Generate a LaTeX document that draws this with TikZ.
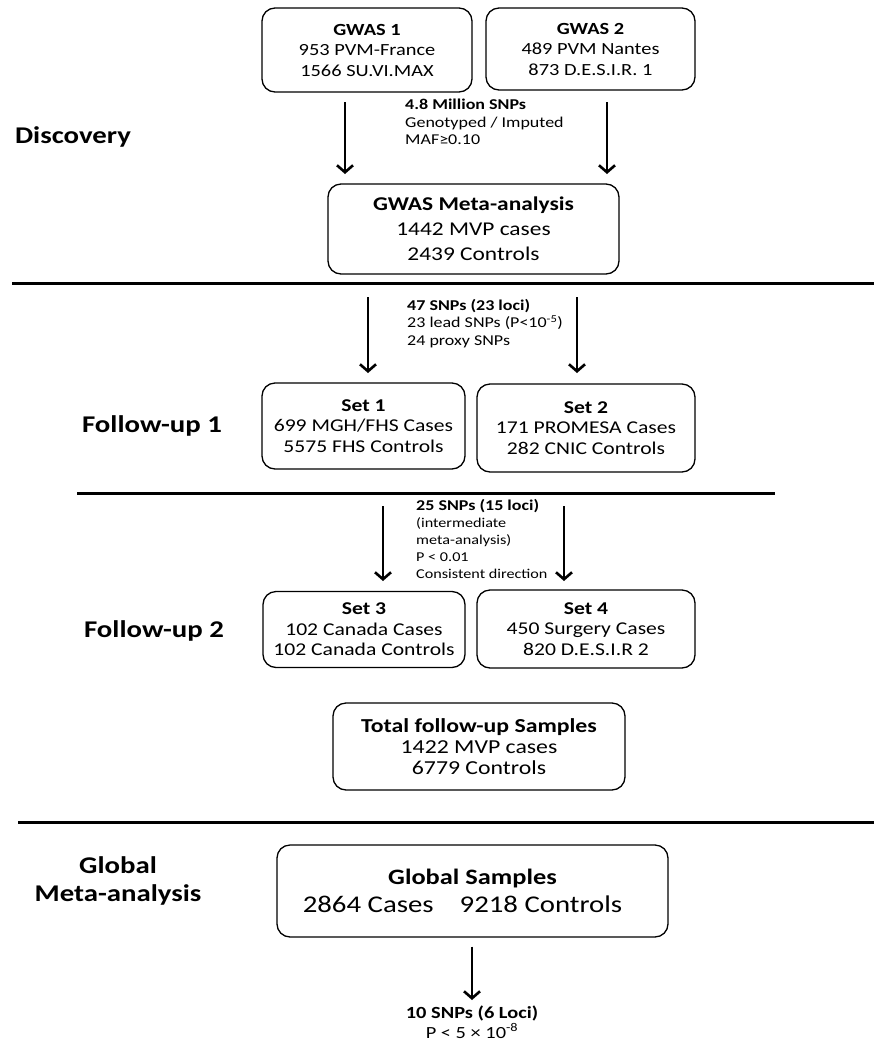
\documentclass[tikz,border=0pt]{standalone}
\usepackage{fontspec}
\setmainfont{Carlito}[FakeStretch=1.2]
\usetikzlibrary{arrows.meta}
\tikzset{
  box/.style={draw, line width=1.3pt, rounded corners=13pt, align=center, inner sep=0pt},
  bfont/.style={font=\fontsize{17}{20.5}\selectfont},
  sfont/.style={font=\fontsize{18}{20.5}\selectfont},
  tfont/.style={font=\fontsize{19.8}{21}\selectfont},
  mfont/.style={font=\fontsize{19.5}{25}\selectfont},
  gfont/.style={font=\fontsize{24}{28}\selectfont},
  ann/.style={anchor=north west, align=left, inner sep=0pt, font=\fontsize{15}{17.5}\selectfont},
  stage/.style={align=center, inner sep=0pt, font=\fontsize{24}{28}\selectfont\bfseries},
  arr/.style={line width=2.6pt, -{Straight Barb[length=7pt,width=16pt]}},
  sep/.style={line width=3pt}
}
\begin{document}
\begin{tikzpicture}[x=1pt,y=-1pt]
\useasboundingbox (0,0) rectangle (874,1045);
% boxes
\node[box,bfont,minimum width=210pt,minimum height=84pt] (gwas1) at (367,50) {\textbf{GWAS 1}\\953 PVM-France\\1566 SU.VI.MAX};
\node[box,bfont,minimum width=209pt,minimum height=82pt] (gwas2) at (590.5,49) {\textbf{GWAS 2}\\489 PVM Nantes\\873 D.E.S.I.R. 1};
\node[box,mfont,minimum width=291pt,minimum height=90pt] (meta) at (473.5,229) {\textbf{GWAS Meta-analysis}\\1442 MVP cases\\2439 Controls};
\node[box,sfont,minimum width=203pt,minimum height=86pt] (set1) at (363.5,426) {\textbf{Set 1}\\699 MGH/FHS Cases\\5575 FHS Controls};
\node[box,sfont,minimum width=218pt,minimum height=88pt] (set2) at (586,428) {\textbf{Set 2}\\171 PROMESA Cases\\282 CNIC Controls};
\node[box,sfont,minimum width=202pt,minimum height=76pt] (set3) at (364,629.5) {\textbf{Set 3}\\102 Canada Cases\\102 Canada Controls};
\node[box,sfont,minimum width=218pt,minimum height=78pt] (set4) at (586,629) {\textbf{Set 4}\\450 Surgery Cases\\820 D.E.S.I.R 2};
\node[box,tfont,minimum width=292pt,minimum height=87pt] (total) at (479,746.5) {\textbf{Total follow-up Samples}\\1422 MVP cases\\6779 Controls};
\node[box,gfont,minimum width=391pt,minimum height=92pt] (global) at (472.5,891) {{\fontsize{22}{28}\selectfont\textbf{Global Samples}}\\2864 Cases\hspace{26pt}9218 Controls\kern20pt};
% annotations
\node[ann] (ann1) at (405,99) {\textbf{4.8 Million SNPs}\\Genotyped / Imputed\\MAF≥0.10};
\node[ann] (ann2) at (407,299) {\textbf{47 SNPs (23 loci)}\\23 lead SNPs (P<10\textsuperscript{-5})\\24 proxy SNPs};
\node[ann,font=\fontsize{13.5}{17}\selectfont] (ann3) at (416,499) {{\fontsize{15}{17}\selectfont\textbf{25 SNPs (15 loci)}}\\(intermediate\\meta-analysis)\\P < 0.01\\Consistent direction};
\node[align=center, inner sep=0pt, font=\fontsize{17}{19.5}\selectfont] (final) at (472,1022) {\textbf{10 SNPs (6 Loci)}\\P < 5 × 10\textsuperscript{-8}};
% stage labels
\node[stage] (disc) at (73,137) {Discovery};
\node[stage] (fu1) at (152,426) {Follow-up 1};
\node[stage] (fu2) at (154,631) {Follow-up 2};
\node[stage] (glob) at (118,881) {Global\\Meta-analysis};
% separators
\coordinate (l1a) at (12,283); \coordinate (l1b) at (874,283);
\coordinate (l2a) at (77,493); \coordinate (l2b) at (775,493);
\coordinate (l3a) at (18,822); \coordinate (l3b) at (874,822);
\draw[sep] (l1a) -- (l1b);
\draw[sep] (l2a) -- (l2b);
\draw[sep] (l3a) -- (l3b);
% arrows
\coordinate (a1s) at (345,102); \coordinate (a1e) at (345,174);
\coordinate (a2s) at (607,102); \coordinate (a2e) at (607,174);
\coordinate (a3s) at (368,297); \coordinate (a3e) at (368,373);
\coordinate (a4s) at (577,297); \coordinate (a4e) at (577,373);
\coordinate (a5s) at (383,506); \coordinate (a5e) at (383,581);
\coordinate (a6s) at (564,506); \coordinate (a6e) at (564,581);
\coordinate (a7e) at (472,1000);
\draw[arr] (a1s) -- (a1e);
\draw[arr] (a2s) -- (a2e);
\draw[arr] (a3s) -- (a3e);
\draw[arr] (a4s) -- (a4e);
\draw[arr] (a5s) -- (a5e);
\draw[arr] (a6s) -- (a6e);
\draw[arr] ([yshift=-9pt]global.south -| a7e) -- (a7e);
\end{tikzpicture}
\end{document}
